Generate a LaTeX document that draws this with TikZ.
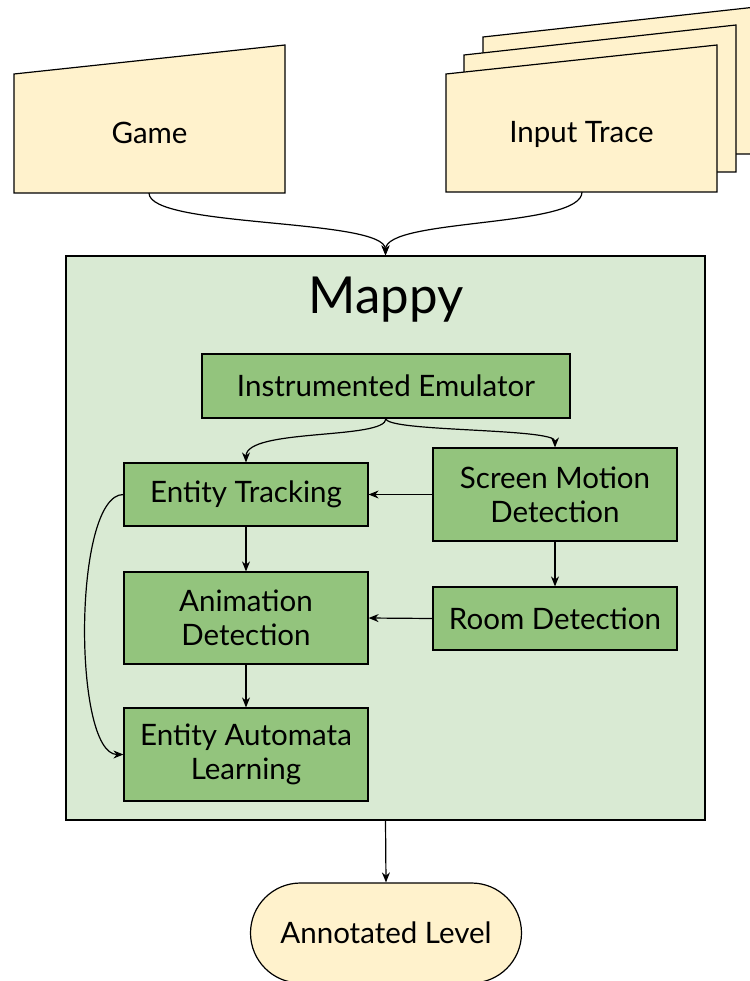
\documentclass[tikz,border=0pt]{standalone}
\usepackage{fontspec}
\setmainfont{Lato}
\usetikzlibrary{arrows.meta}
\definecolor{paper}{HTML}{FFF2CC}
\definecolor{boxg}{HTML}{93C47D}
\definecolor{mapbg}{HTML}{D9EAD3}
\tikzset{
  base/.style={line width=1.2pt, draw=black},
  proc/.style={base, fill=boxg, minimum width=244pt, align=center, inner sep=0pt, font=\fontsize{29.5}{34}\selectfont},
  lbl/.style={font=\fontsize{29.5}{34}\selectfont, align=center},
  conn/.style={line width=1.2pt, -{Stealth[length=10pt,width=8pt]}},
}
\begin{document}
\begin{tikzpicture}[x=1pt,y=-1pt]
\useasboundingbox (0,0) rectangle (749,981);
% Game
\draw[base, fill=paper] (14,74) -- (285,45) -- (285,193) -- (14,193) -- cycle;
\node[lbl] (game) at (149.5,133) {Game};
\coordinate (game-s) at (149,193);
% Input trace pages
\draw[base, fill=paper] (483,37) -- (756,7) -- (756,154) -- (483,154) -- cycle;
\draw[base, fill=paper] (464,55) -- (736,25) -- (736,172) -- (464,172) -- cycle;
\draw[base, fill=paper] (446,74) -- (717,45) -- (717,192) -- (446,192) -- cycle;
\node[lbl] (trace) at (581.5,134) {Input Trace};
\coordinate (trace-s) at (582,192);
% Mappy container
\node[base, fill=mapbg, minimum width=639pt, minimum height=564pt, inner sep=0pt] (mappy) at (385.5,538) {};
\node[font=\fontsize{51}{56}\selectfont] (title) at (386,300) {Mappy};
% process boxes
\node[proc, minimum width=368pt, minimum height=64pt] (ie) at (386,386) {Instrumented Emulator};
\node[proc, minimum height=63pt] (et) at (246,494.5) {Entity Tracking};
\node[proc, minimum height=93pt] (smd) at (555,494.5) {Screen Motion\\Detection};
\node[proc, minimum height=63pt] (rd) at (555,618.5) {Room Detection};
\node[proc, minimum height=92pt] (ad) at (246,618) {Animation\\Detection};
\node[proc, minimum height=93pt] (eal) at (246,754.5) {Entity Automata\\Learning};
% output
\node[base, fill=paper, rounded corners=50pt, minimum width=271pt, minimum height=100pt, lbl] (out) at (386,933) {Annotated Level};
% connectors
\draw[conn] (game-s) .. controls (149,228) and (385,218) .. (mappy.north);
\draw[conn] (trace-s) .. controls (582,228) and (386,218) .. (mappy.north);
\draw[conn] (ie.south) .. controls (386,440) and (246,428) .. (et.north);
\draw[conn] (ie.south) .. controls (386,432) and (555,428) .. (smd.north);
\draw[conn] (smd.west) -- (et.east);
\draw[conn] (smd.south) -- (rd.north);
\draw[conn] (rd.west) -- (ad.east);
\draw[conn] (et.south) -- (ad.north);
\draw[conn] (ad.south) -- (eal.north);
\draw[conn] (et.west) to[out=180, in=180, looseness=0.5] (eal.west);
\draw[conn] (mappy.south) -- (out.north);
\end{tikzpicture}
\end{document}
